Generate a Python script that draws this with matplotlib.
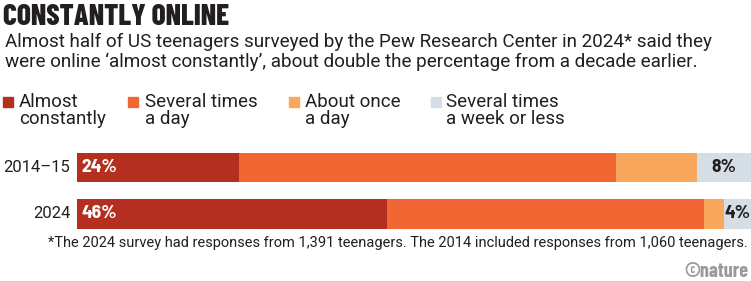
import matplotlib.pyplot as plt
import numpy as np

# data
years = ['2014–15', '2024']
categories = ['Almost\nconstantly', 'Several times\na day', 'About once\na day', 'Several times\na week or less']
almost_constantly = [24, 46]
several_daily = [56, 47]
once_daily = [12, 3]
weekly_or_less = [8, 4]
colors = ['#B52F20', '#F26633', '#F9A75D', '#D5DEE6']

W, H = 751, 281
fig = plt.figure(figsize=(W / 100, H / 100), dpi=100)

BODY = ['Roboto', 'DejaVu Sans']
COND = ['Barlow Condensed', 'DejaVu Sans']
SEMI = ['Barlow Semi Condensed', 'DejaVu Sans']
INK = '#231F20'

def fx(px):
    return px / W

def fy(py):
    return 1 - py / H

# --- header ---
fig.text(fx(3), fy(25), 'CONSTANTLY ONLINE', family=COND, weight=800,
         fontsize=21.2, va='baseline', ha='left', color=INK)
fig.text(fx(5), fy(47), 'Almost half of US teenagers surveyed by the Pew Research Center in 2024* said they',
         family=BODY, fontsize=13.6, va='baseline', ha='left', color=INK)
fig.text(fx(5), fy(67), 'were online \u2018almost constantly\u2019, about double the percentage from a decade earlier.',
         family=BODY, fontsize=13.6, va='baseline', ha='left', color=INK)

# --- legend ---
sq_x = [3, 128, 289, 431]
txt_x = [19, 145, 305, 446]
for sx, tx, lab, c in zip(sq_x, txt_x, categories, colors):
    fig.patches.append(plt.Rectangle((fx(sx), fy(107)), fx(10), 10 / H, color=c,
                                     transform=fig.transFigure, figure=fig))
    for k, line in enumerate(lab.split('\n')):
        fig.text(fx(tx), fy(107 + 17 * k), line, family=BODY, fontsize=13.5,
                 va='baseline', ha='left', color=INK)

# --- bars ---
ax = fig.add_axes([fx(77), fy(228.5), 1 - fx(77), (228.5 - 153) / H])
series = [almost_constantly, several_daily, once_daily, weekly_or_less]
ypos = np.arange(len(years))
left = np.zeros(len(years))
for vals, c in zip(series, colors):
    ax.barh(ypos, vals, left=left, height=0.624, color=c, edgecolor='none')
    left += np.array(vals)

for i in range(len(years)):
    ax.text(0.7, ypos[i], f'{almost_constantly[i]}%', color='white', weight='bold',
            family=SEMI, fontsize=14, va='center', ha='left')
    start = 100 - weekly_or_less[i]
    ax.text(start + weekly_or_less[i] / 2, ypos[i], f'{weekly_or_less[i]}%', color=INK,
            weight='bold', family=SEMI, fontsize=14, va='center', ha='center')
    ax.text(-1.0, ypos[i], years[i], family=BODY, fontsize=12, va='center', ha='right',
            color=INK)

ax.set_xlim(0, 100)
ax.set_ylim(1.312, -0.312)
ax.axis('off')

# --- footer ---
fig.text(fx(748), fy(247), '*The 2024 survey had responses from 1,391 teenagers. The 2014 included responses from 1,060 teenagers.',
         family=BODY, fontsize=10.5, va='baseline', ha='right', color=INK)
fig.text(fx(748), fy(277), '\u00a9nature', family=COND, weight='bold',
         fontsize=14.5, va='baseline', ha='right', color='#9A9A9A')

fig.savefig('out.png', dpi=100)
